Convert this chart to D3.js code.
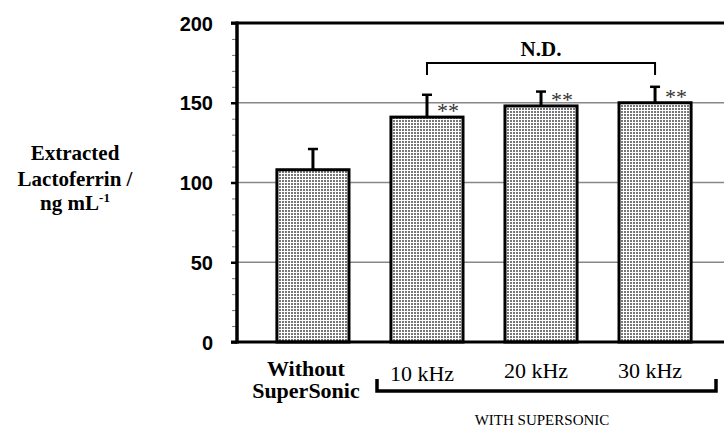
<!DOCTYPE html>
<html>
<head>
<meta charset="utf-8">
<script src="https://cdn.jsdelivr.net/npm/d3@7"></script>
<style>
  body { margin: 0; background: #fff; }
  svg { display: block; }
  .ylab text { font-family: "Liberation Sans", Arial, sans-serif; font-weight: bold; font-size: 20px; }
  .serif { font-family: "Liberation Serif", "Times New Roman", serif; }
</style>
</head>
<body>
<svg id="chart" width="724" height="436"></svg>
<script>
// data
var categories = ["Without SuperSonic", "10 kHz", "20 kHz", "30 kHz"];
var means = [108, 141, 148, 150];
var errUpper = [121, 155, 157, 160];
var signif = ["", "**", "**", "**"];
var yTicks = [0, 50, 100, 150, 200];
var yMinorTicks = d3.range(0, 201, 10);

var svg = d3.select("#chart");
var W = 724;

// plot area (note: "top" is reserved on window, so use plot* names)
var plotLeft = 237, plotTop = 23, plotBottom = 342, plotRight = 731;

var x = d3.scaleBand()
  .domain(categories)
  .range([plotLeft, plotRight])
  .paddingInner(0.368)
  .paddingOuter(0.35);

var y = d3.scaleLinear().domain([0, 200]).range([plotBottom, plotTop]);

// pattern fill for bars
var defs = svg.append("defs");
var pat = defs.append("pattern")
  .attr("id", "dots")
  .attr("width", 3).attr("height", 3)
  .attr("patternUnits", "userSpaceOnUse");
pat.append("rect").attr("width", 3).attr("height", 3).attr("fill", "#fff");
pat.append("rect").attr("x", 0).attr("y", 0).attr("width", 2).attr("height", 2).attr("fill", "#777");

// gridlines
svg.selectAll(".grid")
  .data([50, 100, 150])
  .enter().append("line")
  .attr("class", "grid")
  .attr("x1", plotLeft).attr("x2", W)
  .attr("y1", function(d) { return y(d); })
  .attr("y2", function(d) { return y(d); })
  .attr("stroke", "#888")
  .attr("stroke-width", 1.5);

// minor ticks
svg.append("g")
  .attr("transform", "translate(" + plotLeft + ",0)")
  .call(d3.axisLeft(y).tickValues(yMinorTicks).tickSize(5).tickFormat(""))
  .call(function(g) {
    g.select(".domain").remove();
    g.selectAll("line").attr("stroke", "#777").attr("stroke-width", 1);
  });

// major ticks + labels
svg.append("g")
  .attr("class", "ylab")
  .attr("transform", "translate(" + plotLeft + ",0)")
  .call(d3.axisLeft(y).tickValues(yTicks).tickSize(6).tickPadding(18))
  .call(function(g) {
    g.select(".domain").remove();
    g.selectAll("line").attr("stroke", "#000").attr("stroke-width", 2.5);
    g.selectAll("text").attr("fill", "#000").attr("dy", "0.36em");
  });

// bars
svg.selectAll(".bar")
  .data(categories)
  .enter().append("rect")
  .attr("class", "bar")
  .attr("x", function(d) { return x(d); })
  .attr("y", function(d, i) { return y(means[i]); })
  .attr("width", x.bandwidth())
  .attr("height", function(d, i) { return y(0) - y(means[i]); })
  .attr("fill", "url(#dots)")
  .attr("stroke", "#000")
  .attr("stroke-width", 3);

// error bars
svg.selectAll(".err")
  .data(categories)
  .enter().append("line")
  .attr("x1", function(d) { return x(d) + x.bandwidth() / 2; })
  .attr("x2", function(d) { return x(d) + x.bandwidth() / 2; })
  .attr("y1", function(d, i) { return y(means[i]); })
  .attr("y2", function(d, i) { return y(errUpper[i]); })
  .attr("stroke", "#000").attr("stroke-width", 3);
svg.selectAll(".cap")
  .data(categories)
  .enter().append("line")
  .attr("x1", function(d) { return x(d) + x.bandwidth() / 2 - 5; })
  .attr("x2", function(d) { return x(d) + x.bandwidth() / 2 + 5; })
  .attr("y1", function(d, i) { return y(errUpper[i]); })
  .attr("y2", function(d, i) { return y(errUpper[i]); })
  .attr("stroke", "#000").attr("stroke-width", 2.5);

// ** marks
svg.selectAll(".sig")
  .data(categories)
  .enter().append("text")
  .attr("class", "serif")
  .attr("x", function(d) { return x(d) + x.bandwidth() / 2 + 10; })
  .attr("y", function(d, i) { return y(means[i]) + 1; })
  .attr("font-size", 22)
  .attr("fill", "#333")
  .text(function(d, i) { return signif[i]; });

// frame: top line, left axis, baseline
svg.append("line").attr("x1", plotLeft - 6).attr("x2", W).attr("y1", y(200)).attr("y2", y(200))
  .attr("stroke", "#000").attr("stroke-width", 3);
svg.append("line").attr("x1", plotLeft).attr("x2", plotLeft).attr("y1", y(200) - 1.5).attr("y2", y(0) + 1.5)
  .attr("stroke", "#000").attr("stroke-width", 3.5);
svg.append("line").attr("x1", plotLeft - 6).attr("x2", W).attr("y1", y(0)).attr("y2", y(0))
  .attr("stroke", "#000").attr("stroke-width", 3);

// N.D. bracket between 10 kHz and 30 kHz
var bx1 = x(categories[1]) + x.bandwidth() / 2;
var bx2 = x(categories[3]) + x.bandwidth() / 2;
svg.append("path")
  .attr("d", "M" + bx1 + ",75 V63 H" + bx2 + " V75")
  .attr("fill", "none").attr("stroke", "#000").attr("stroke-width", 2);
svg.append("text")
  .attr("class", "serif")
  .attr("x", (bx1 + bx2) / 2).attr("y", 56)
  .attr("text-anchor", "middle")
  .attr("font-size", 21).attr("font-weight", "bold")
  .text("N.D.");

// x labels
var c0 = x(categories[0]) + x.bandwidth() / 2;
var xl = svg.append("text")
  .attr("class", "serif")
  .attr("text-anchor", "middle")
  .attr("font-size", 22).attr("font-weight", "bold");
xl.append("tspan").attr("x", c0 - 7).attr("y", 376).text("Without");
xl.append("tspan").attr("x", c0 - 7).attr("y", 398).text("SuperSonic");

svg.selectAll(".khz")
  .data(categories.slice(1))
  .enter().append("text")
  .attr("class", "serif")
  .attr("x", function(d) { return x(d) + x.bandwidth() / 2 - 5; })
  .attr("y", function(d, i) { return i === 0 ? 381 : 378; })
  .attr("text-anchor", "middle")
  .attr("font-size", 22)
  .text(function(d) { return d; });

// bracket grouping the supersonic bars
svg.append("path")
  .attr("d", "M377,379 V391 H716 V379")
  .attr("fill", "none").attr("stroke", "#000").attr("stroke-width", 3.5);

svg.append("text")
  .attr("class", "serif")
  .attr("x", 542).attr("y", 425)
  .attr("text-anchor", "middle")
  .attr("font-size", 15)
  .text("WITH SUPERSONIC");

// y title
var yt = svg.append("text")
  .attr("class", "serif")
  .attr("text-anchor", "middle")
  .attr("font-size", 21).attr("font-weight", "bold");
yt.append("tspan").attr("x", 75).attr("y", 160).text("Extracted");
yt.append("tspan").attr("x", 75).attr("y", 186).text("Lactoferrin /");
var t3 = yt.append("tspan").attr("x", 75).attr("y", 210);
t3.append("tspan").text("ng mL");
t3.append("tspan").attr("font-size", 13).attr("dy", -8).text("-1");
</script>
</body>
</html>
